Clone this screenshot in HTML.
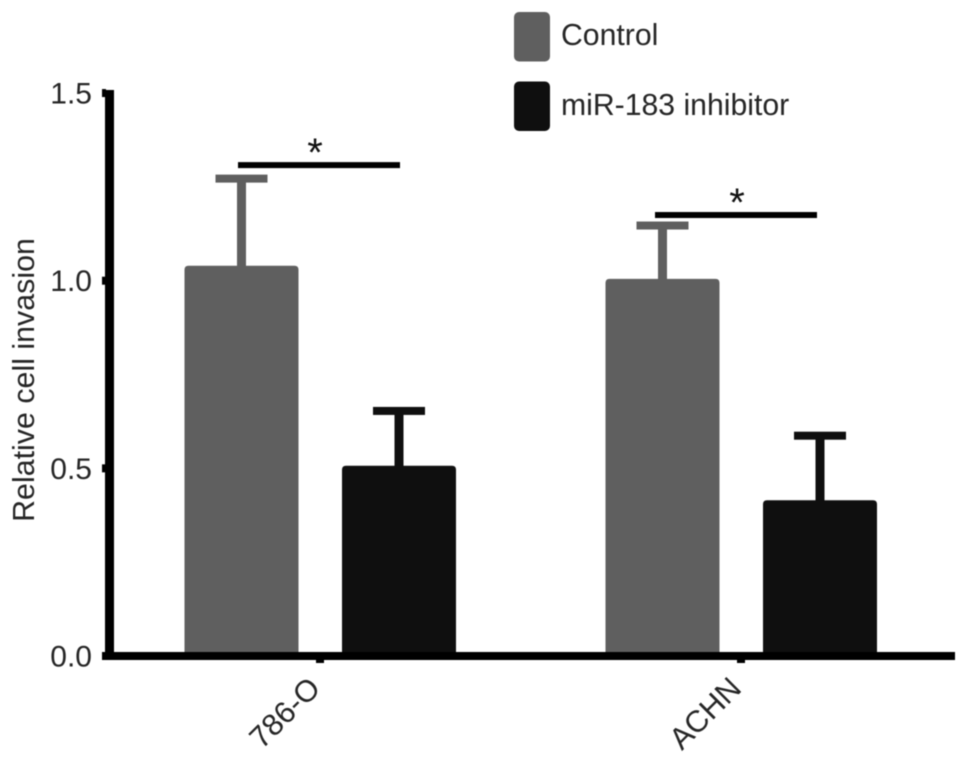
<!DOCTYPE html>
<html>
<head>
<meta charset="utf-8">
<style>
html,body{margin:0;padding:0;background:#fff;}
svg{display:block;filter:blur(0.5px);}
text{font-family:"Liberation Sans",sans-serif;fill:#262626;}
</style>
</head>
<body>
<svg id="chart" width="969" height="761" viewBox="0 0 969 761" xmlns="http://www.w3.org/2000/svg"></svg>
<script>
var categories = ['786-O', 'ACHN'];
var seriesNames = ['Control', 'miR-183 inhibitor'];
var controlValues = [1.04, 1.005];
var inhibitorValues = [0.507, 0.415];
var controlErrors = [0.232, 0.142];
var inhibitorErrors = [0.146, 0.172];
var yTicks = ['0.0', '0.5', '1.0', '1.5'];
var significance = ['*', '*'];
var significanceLevels = [1.308, 1.175];

var svg = document.getElementById('chart');
var NS = 'http://www.w3.org/2000/svg';
var colors = ['#5f5f5f', '#0f0f0f'];

function yScale(v) { return 656 - v * 375.3; }
function groupX(i) { return 320 + i * 421; }

function add(tag, attrs, parent) {
  var el = document.createElementNS(NS, tag);
  for (var k in attrs) el.setAttribute(k, attrs[k]);
  (parent || svg).appendChild(el);
  return el;
}

// bars with error whiskers
[controlValues, inhibitorValues].forEach(function (vals, s) {
  var errs = s === 0 ? controlErrors : inhibitorErrors;
  vals.forEach(function (v, i) {
    var cx = groupX(i) + (s === 0 ? -78.5 : 79);
    var top = yScale(v);
    var capY = yScale(v + errs[i]);
    var stem = add('rect', {x: cx - 4.5, y: capY, width: 9, height: top - capY + 3, fill: colors[s]});
    
    
    var cap = add('rect', {x: cx - 26, y: capY - 4, width: 52, height: 8, fill: colors[s]});
    
    
    var bar = add('path', {d: 'M' + (cx - 57) + ' 656V' + (top + 4) + 'q0 -4 4 -4H' + (cx + 53) + 'q4 0 4 4V656Z', fill: colors[s]});
    
    
  });
});

// axes
var yAxis = add('rect', {x: 105, y: 90, width: 9, height: 570, fill: '#000'});


var xAxis = add('rect', {x: 102, y: 652, width: 853, height: 8, fill: '#000'});



yTicks.forEach(function (t) {
  var y = yScale(parseFloat(t));
  var tick = add('rect', {x: 102, y: y - 4, width: 4, height: 8, fill: '#000'});
  
  
  var lab = add('text', {x: 92, y: y + 10.5, 'text-anchor': 'end', 'font-size': 30});
  
  
  lab.textContent = t;
});

categories.forEach(function (c, i) {
  var cx = groupX(i);
  var tick = add('rect', {x: cx - 4, y: 658, width: 8, height: 5, fill: '#000'});
  
  
  var lab = add('text', {x: cx + 2, y: 690, 'text-anchor': 'end', 'font-size': 30.5, transform: 'rotate(-45 ' + (cx + 2) + ' 690)'});
  
  
  lab.textContent = c;
});

// significance bars
significance.forEach(function (m, i) {
  var y = yScale(significanceLevels[i]);
  var x0 = i === 0 ? groupX(i) - 82 : groupX(i) - 86;
  var line = add('rect', {x: x0, y: y - 3, width: 162, height: 6, fill: '#000'});
  
  
  var star = add('text', {x: x0 + (i === 0 ? 77 : 82), y: y + 1, 'text-anchor': 'middle', 'font-size': 40});
  
  
  star.style.fill = '#111';
  star.textContent = m;
});

// y axis title
var title = add('text', {x: 34, y: 380, 'text-anchor': 'middle', 'font-size': 30.4, transform: 'rotate(-90 34 380)'});


title.textContent = 'Relative cell invasion';

// legend
seriesNames.forEach(function (n, s) {
  var y = 12 + s * 69.5;
  var sw = add('rect', {x: 514, y: y, width: 36, height: 49.5, rx: 5, fill: colors[s]});
  
  
  var lab = add('text', {x: 561, y: 45 + s * 70, 'font-size': 30.2});
  
  
  lab.textContent = n;
});
</script>
</body>
</html>
